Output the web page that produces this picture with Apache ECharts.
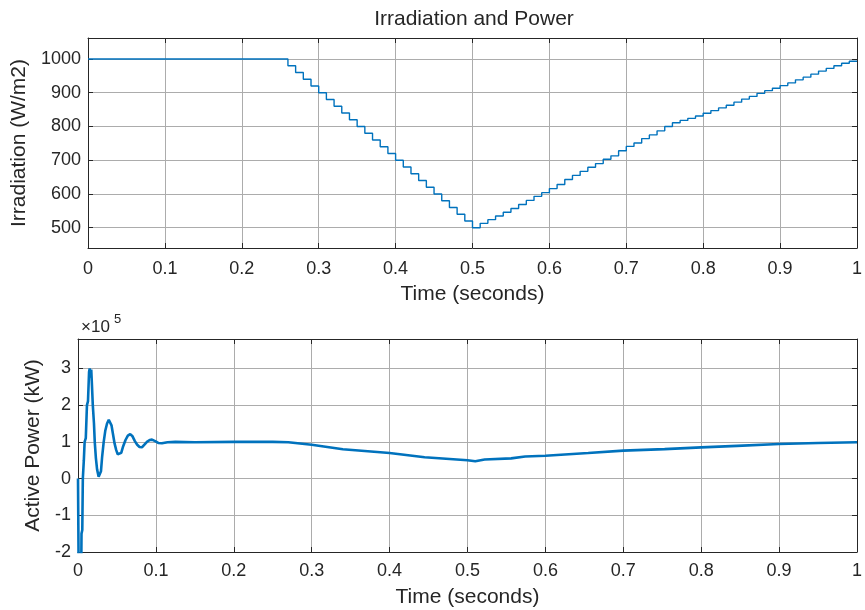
<!DOCTYPE html>
<html>
<head>
<meta charset="utf-8">
<script src="https://cdn.jsdelivr.net/npm/echarts@6/dist/echarts.min.js"></script>
<style>
html,body{margin:0;padding:0;background:#fff;}
#chart{width:865px;height:610px;}
</style>
</head>
<body>
<div id="chart"></div>
<script>
// ---- Irradiation (stairs, zero-order hold) ----
const irrTime = [0, 0.26, 0.27, 0.28, 0.29, 0.30, 0.31, 0.32, 0.33, 0.34, 0.35, 0.36, 0.37, 0.38, 0.39,
  0.40, 0.41, 0.42, 0.43, 0.44, 0.45, 0.46, 0.47, 0.48, 0.49, 0.50,
  0.51, 0.52, 0.53, 0.54, 0.55, 0.56, 0.57, 0.58, 0.59, 0.60, 0.61, 0.62, 0.63, 0.64, 0.65, 0.66, 0.67,
  0.68, 0.69, 0.70, 0.71, 0.72, 0.73, 0.74, 0.75, 0.76, 0.77, 0.78, 0.79, 0.80, 0.81, 0.82, 0.83, 0.84,
  0.85, 0.86, 0.87, 0.88, 0.89, 0.90, 0.91, 0.92, 0.93, 0.94, 0.95, 0.96, 0.97, 0.98, 0.99, 1.00];
const irrValue = [1000, 980, 960, 940, 920, 900, 880, 860, 840, 820, 800, 780, 760, 740, 720,
  700, 680, 660, 640, 620, 600, 580, 560, 540, 520, 500,
  513, 524, 535, 546, 557, 569, 581, 593, 604, 616, 628, 643, 655, 667, 679, 690, 703,
  713, 728, 741, 751, 764, 775, 787, 800, 811, 818, 824, 831, 839, 847, 855, 863, 872,
  881, 889, 898, 906, 913, 921, 929, 938, 946, 955, 964, 972, 980, 987, 993, 995];
const irrTicks = [500, 600, 700, 800, 900, 1000];

// ---- Active power (kW) ----
const powTime = [0, 0.001, 0.0040, 0.0045, 0.0055, 0.0062, 0.0075, 0.0085, 0.0100, 0.0115, 0.0128,
  0.0142, 0.0150, 0.0160, 0.0170, 0.0180, 0.0190, 0.0205, 0.0215, 0.0230, 0.0245, 0.0265, 0.0280,
  0.0295, 0.0310, 0.0330, 0.0350, 0.0373, 0.0395, 0.0410, 0.0430, 0.0450, 0.0470, 0.0490, 0.0510,
  0.0530, 0.0555, 0.0580, 0.0610, 0.0640, 0.0670, 0.0700, 0.0730, 0.0760, 0.0790, 0.0820, 0.0850,
  0.0885, 0.0920, 0.0950, 0.0990, 0.1030, 0.1077, 0.115, 0.125, 0.15, 0.20, 0.25, 0.27, 0.30, 0.34,
  0.40, 0.445, 0.50, 0.51, 0.522, 0.556, 0.574, 0.60, 0.655, 0.70, 0.753, 0.80, 0.846, 0.90, 0.95, 1.00];
const powValue = [0, -300000, -300000, -150000, -140000, 0, 50000, 100000, 110000, 200000, 210000,
  290000, 300000, 275000, 297000, 250000, 200000, 150000, 100000, 55000, 25000, 5000, 0,
  20000, 60000, 100000, 130000, 150000, 160000, 162000, 145000, 120000, 95000, 78000, 66000,
  62000, 70000, 88000, 105000, 117000, 121000, 115000, 102000, 92000, 86000, 85000, 92000,
  100000, 105000, 106000, 102000, 97000, 96000, 99000, 100000, 99000, 100000, 100000, 99000, 92000, 80000,
  69500, 58000, 50000, 47000, 52000, 55000, 60000, 62000, 69500, 76000, 80000, 85000, 89000, 94000, 97000, 99000];

const FONT = "'Liberation Sans', Arial, sans-serif";
const TXT = '#262626';
const GRID = '#acacac';
const LINE = '#0072BD';
const TICK = 18;
const NAME = 21;

function xAx(g, bottom, name, gap, margin) {
  return {
    gridIndex: g, type: 'value', min: 0, max: 1, interval: 0.1,
    position: bottom ? 'bottom' : 'top',
    axisLine: {show: true, onZero: false, lineStyle: {color: TXT, width: 1}},
    axisTick: {show: true, inside: true, length: 5, lineStyle: {color: TXT}},
    axisLabel: {show: bottom, fontFamily: FONT, fontSize: TICK, color: TXT, margin: margin || 10},
    splitLine: {show: bottom, lineStyle: {color: GRID, width: 1}},
    name: bottom ? name : '', nameLocation: 'middle', nameGap: gap,
    nameTextStyle: {fontFamily: FONT, fontSize: NAME, color: TXT}
  };
}

const chart = echarts.init(document.getElementById('chart'), null, {renderer: 'canvas'});
chart.setOption({
  animation: false,
  backgroundColor: '#fff',
  grid: [
    {left: 88, right: 6, top: 38, height: 210},
    {left: 78, right: 6, top: 339, height: 213}
  ],
  xAxis: [
    xAx(0, true, 'Time (seconds)', 36, 12),
    xAx(0, false),
    xAx(1, true, 'Time (seconds)', 35, 10),
    xAx(1, false)
  ],
  yAxis: [
    {
      gridIndex: 0, type: 'value', min: 440, max: 1062, position: 'left',
      axisLine: {show: true, onZero: false, lineStyle: {color: TXT}},
      axisTick: {show: true, inside: true, length: 5, customValues: irrTicks, lineStyle: {color: TXT}},
      axisLabel: {fontFamily: FONT, fontSize: TICK, color: TXT, margin: 7, customValues: irrTicks,
        formatter: function (v) { return String(v); }},
      splitLine: {show: true, lineStyle: {color: GRID, width: 1}},
      name: 'Irradiation (W/m2)', nameLocation: 'middle', nameGap: 51,
      nameTextStyle: {fontFamily: FONT, fontSize: NAME, color: TXT}
    },
    {
      gridIndex: 0, type: 'value', min: 440, max: 1062, position: 'right',
      axisLine: {show: true, onZero: false, lineStyle: {color: TXT}},
      axisTick: {show: true, inside: true, length: 5, customValues: irrTicks, lineStyle: {color: TXT}},
      axisLabel: {show: false, customValues: irrTicks},
      splitLine: {show: false}
    },
    {
      gridIndex: 1, type: 'value', min: -200000, max: 380000, interval: 100000, position: 'left',
      axisLine: {show: true, onZero: false, lineStyle: {color: TXT}},
      axisTick: {show: true, inside: true, length: 5, lineStyle: {color: TXT}},
      axisLabel: {
        fontFamily: FONT, fontSize: TICK, color: TXT, margin: 7,
        formatter: function (v) {
          const k = v / 100000;
          return Math.abs(k - Math.round(k)) < 1e-6 ? String(Math.round(k)) : '';
        }
      },
      splitLine: {show: true, lineStyle: {color: GRID, width: 1}},
      name: 'Active Power (kW)', nameLocation: 'middle', nameGap: 25,
      nameTextStyle: {fontFamily: FONT, fontSize: NAME, color: TXT}
    },
    {
      gridIndex: 1, type: 'value', min: -200000, max: 380000, interval: 100000, position: 'right',
      axisLine: {show: true, onZero: false, lineStyle: {color: TXT}},
      axisTick: {show: true, inside: true, length: 5, lineStyle: {color: TXT}},
      axisLabel: {show: false},
      splitLine: {show: false}
    }
  ],
  graphic: [
    {type: 'text', x: 474, y: 9, style: {text: 'Irradiation and Power', align: 'center',
      fontFamily: FONT, fontSize: NAME, fill: TXT}},
    {type: 'text', x: 81, y: 319, style: {text: '×10', fontFamily: FONT, fontSize: 17, fill: TXT}},
    {type: 'text', x: 114, y: 313, style: {text: '5', fontFamily: FONT, fontSize: 13, fill: TXT}}
  ],
  series: [
    {
      type: 'line', xAxisIndex: 0, yAxisIndex: 0, step: 'end', symbol: 'none', clip: true,
      lineStyle: {color: LINE, width: 1.4},
      data: irrTime.map((t, i) => [t, irrValue[i]])
    },
    {
      type: 'line', xAxisIndex: 2, yAxisIndex: 2, symbol: 'none', clip: true,
      lineStyle: {color: LINE, width: 2.6},
      data: powTime.map((t, i) => [t, powValue[i]])
    }
  ]
});
</script>
</body>
</html>
